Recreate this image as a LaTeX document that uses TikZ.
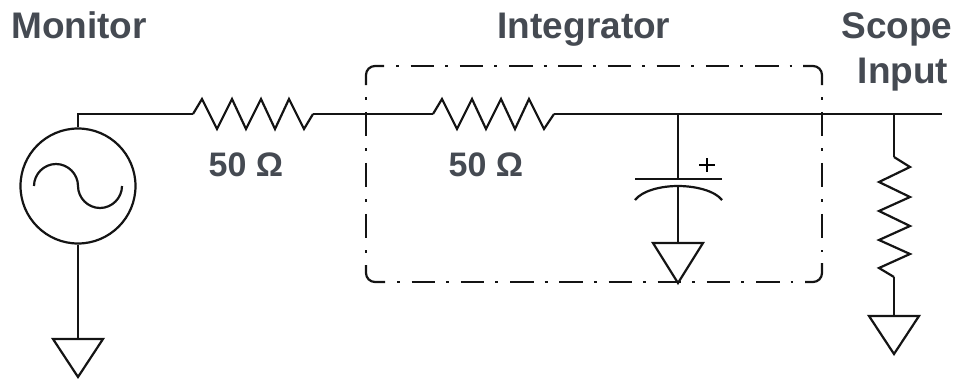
\documentclass[tikz,border=0pt]{standalone}
\usepackage{fontspec}
\setmainfont{Liberation Sans}
\definecolor{labelgrey}{HTML}{454A52}
\tikzset{
  wire/.style={line width=2.2pt,line join=miter,black!92!white},
  thinwire/.style={line width=1.8pt,black!92!white},
  boxline/.style={line width=2.2pt,black!92!white,line cap=butt},
  dashh/.style={boxline,dash pattern=on 3pt off 11.7pt on 23.5pt off 11pt},
  dashv/.style={boxline,dash pattern=on 3pt off 11.9pt on 24.2pt off 11.9pt},
  lbl/.style={font=\bfseries\fontsize{37}{37}\selectfont,text=labelgrey,anchor=base,inner sep=0pt},
  val/.style={font=\bfseries\fontsize{34}{34}\selectfont,text=labelgrey,anchor=base,inner sep=0pt},
  src/.style={draw,circle,line width=2.2pt,minimum size=115pt,inner sep=0pt,black!92!white}
}
\begin{document}
\begin{tikzpicture}[x=1pt,y=-1pt]
\useasboundingbox (0,0) rectangle (956,378);
% labels
\node[lbl] (monitor) at (79,38) {Monitor};
\node[lbl] (integrator) at (584,38) {Integrator};
\node[lbl] (scope) at (897,38) {Scope};
\node[lbl] (input) at (903,83) {Input};
\node[val] (rone) at (246,176) {50 Ω};
\node[val] (rtwo) at (486,176) {50 Ω};
% source
\node[src] (source) at (78,186) {};
\draw[wire] (34,186) .. controls (34,174) and (44,164) .. (56,164)
  .. controls (68,164) and (78,174) .. (78,186)
  .. controls (78,198) and (88,208) .. (100,208)
  .. controls (112,208) and (122,198) .. (122,186);
% terminals
\coordinate (r1a) at (193,114);
\coordinate (r1b) at (313,114);
\coordinate (r2a) at (433,114);
\coordinate (r2b) at (554,114);
\coordinate (junc) at (678,114);
\coordinate (tap) at (894,114);
\coordinate (out) at (942,114);
\coordinate (capa) at (678,179);
\coordinate (capb) at (678,186);
\coordinate (gndc) at (678,243);
\coordinate (gnda) at (78,339);
\coordinate (r3a) at (894,157);
\coordinate (r3b) at (894,277);
\coordinate (gndr) at (894,316);
% wires
\draw[thinwire] (source.north) |- (r1a);
\draw[thinwire] (r1b) -- (r2a);
\draw[thinwire] (r2b) -- (out);
\draw[wire] (source.south) -- (gnda);
\draw[wire] (junc) -- (capa);
\draw[wire] (capb) -- (gndc);
\draw[wire] (tap) -- (r3a);
\draw[wire] (r3b) -- (gndr);
% resistors
\draw[wire] (r1a) -- (202,99) -- (217,129) -- (232,99) -- (246,129) -- (261,99) -- (275,129) -- (289,99) -- (304,129) -- (r1b);
\draw[wire] (r2a) -- (442,99) -- (457,129) -- (472,99) -- (486,129) -- (501,99) -- (515,129) -- (529,99) -- (544,129) -- (r2b);
\draw[wire] (r3a) -- (910,167) -- (879,182) -- (910,197) -- (879,211) -- (910,226) -- (879,240) -- (910,254) -- (879,268) -- (r3b);
% capacitor
\draw[wire] (635,179) -- (722,179);
\draw[wire] (635,200) .. controls (642,191) and (660,186) .. (capb) .. controls (696,186) and (715,191) .. (722,200);
\draw[line width=1.8pt] (699,165) -- (715,165) (707,158) -- (707,172);
% grounds
\draw[wire] (gnda) ++(-25,0) -- ++(50,0) -- (78,377) -- cycle;
\draw[wire] (gndc) ++(-25,0) -- ++(50,0) -- (678,283) -- cycle;
\draw[wire] (gndr) ++(-25,0) -- ++(50,0) -- (894,354) -- cycle;
% dash-dot box
\draw[boxline,rounded corners=9pt] (366,85) -- (366,66) -- (384,66);
\draw[boxline,rounded corners=9pt] (803,66) -- (822,66) -- (822,85);
\draw[boxline,rounded corners=9pt] (366,265) -- (366,282) -- (385,282);
\draw[boxline,rounded corners=9pt] (805,282) -- (822,282) -- (822,263);
\draw[dashh] (396,66) -- (792,66);
\draw[dashh] (397,282) -- (793,282);
\draw[dashv] (366,97) -- (366,253);
\draw[dashv] (822,97) -- (822,252);
\end{tikzpicture}
\end{document}
